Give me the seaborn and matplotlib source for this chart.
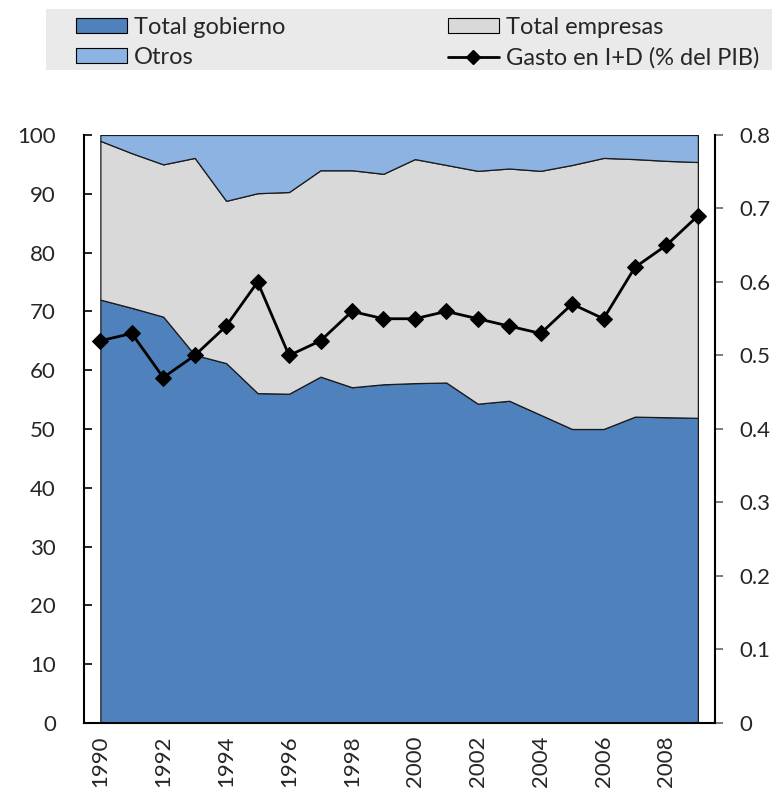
import numpy as np
import pandas as pd
import seaborn as sns
import matplotlib.pyplot as plt
from matplotlib.patches import Patch, Rectangle
from matplotlib.lines import Line2D

# datos
years = list(range(1990, 2010))
gobierno = [72.0, 70.6, 69.1, 62.6, 61.2, 56.1, 56.0, 58.9, 57.1, 57.6,
            57.8, 57.9, 54.3, 54.8, 52.4, 50.0, 50.0, 52.1, 52.0, 51.9]
empresas_top = [99.0, 96.9, 95.0, 96.1, 88.8, 90.1, 90.3, 94.0, 94.0, 93.4,
                95.9, 94.9, 93.9, 94.3, 93.9, 94.9, 96.1, 95.9, 95.6, 95.4]
gasto_id = [0.52, 0.53, 0.47, 0.50, 0.54, 0.60, 0.50, 0.52, 0.56, 0.55,
            0.55, 0.56, 0.55, 0.54, 0.53, 0.57, 0.55, 0.62, 0.65, 0.69]

empresas = [t - g for t, g in zip(empresas_top, gobierno)]
otros = [100 - t for t in empresas_top]

df = pd.DataFrame({"year": years, "gasto": gasto_id})

sns.set_style("white")
plt.rcParams["font.family"] = ["Lato", "DejaVu Sans"]
plt.rcParams["font.size"] = 16

c_gob = "#4F81BD"
c_emp = "#D9D9D9"
c_otr = "#8DB3E2"

fig = plt.figure(figsize=(7.75, 7.88), dpi=100)
ax = fig.add_axes([0.108, 0.0825, 0.814, 0.7462])

ax.stackplot(years, gobierno, empresas, otros,
             colors=[c_gob, c_emp, c_otr], edgecolor="#1a1a1a", linewidth=0.9)
ax.set_xlim(1989.47, 2009.53)
ax.set_ylim(0, 100)
ax.set_yticks(range(0, 101, 10))
ax.set_xticks(range(1990, 2010, 2))
ax.set_xticklabels([str(y) for y in range(1990, 2010, 2)], rotation=90)
ax.set_xticks(np.arange(1990.5, 2009, 1), minor=True)
ax.tick_params(axis="x", which="major", length=0, pad=9, labelsize=16)
ax.tick_params(axis="x", which="minor", direction="in", length=6, width=1.2, color="black", bottom=True)
ax.tick_params(axis="y", direction="in", length=6, width=1.2, color="black", left=True, labelsize=16, pad=20)
for s in ["left", "bottom"]:
    ax.spines[s].set_color("black")
    ax.spines[s].set_linewidth(1.5)
ax.spines["top"].set_visible(False)
ax.spines["right"].set_visible(False)

ax2 = ax.twinx()
sns.lineplot(data=df, x="year", y="gasto", ax=ax2, color="black", linewidth=2,
             marker="D", markersize=8, markeredgecolor="black")
ax2.set_ylim(0, 0.8)
ax2.set_yticks(np.arange(0, 0.81, 0.1))
ax2.set_yticklabels(["0"] + ["%.1f" % v for v in np.arange(0.1, 0.81, 0.1)])
ax2.set_xlim(1989.47, 2009.53)
ax2.set_xlabel("")
ax2.set_ylabel("")
ax2.tick_params(axis="y", direction="out", length=6, width=1.2, color="#666666", right=True, labelsize=16, pad=12)
ax2.spines["right"].set_color("black")
ax2.spines["right"].set_linewidth(1.5)
for s in ["top", "left", "bottom"]:
    ax2.spines[s].set_visible(False)

# fondo gris de la leyenda
fig.patches.append(Rectangle((46 / 775, 1 - 70 / 788), 726 / 775, 61 / 788,
                             transform=fig.transFigure, facecolor="#EAEAEA", edgecolor="none", zorder=0))

handles = [
    Patch(facecolor=c_gob, edgecolor="black", linewidth=0.8, label="Total gobierno"),
    Patch(facecolor=c_otr, edgecolor="black", linewidth=0.8, label="Otros"),
    Patch(facecolor=c_emp, edgecolor="black", linewidth=0.8, label="Total empresas"),
    Line2D([0], [0], color="black", linewidth=2, marker="D", markersize=7, label="Gasto en I+D (% del PIB)"),
]
leg = fig.legend(handles=handles, ncol=2, loc="upper left", bbox_to_anchor=(0.098, 0.979),
                 frameon=False, fontsize=17, handlelength=2.15, handleheight=0.6, handletextpad=0.3,
                 labelspacing=0.4, borderaxespad=0, borderpad=0, columnspacing=6.9)

fig.savefig("out.png", dpi=100)
